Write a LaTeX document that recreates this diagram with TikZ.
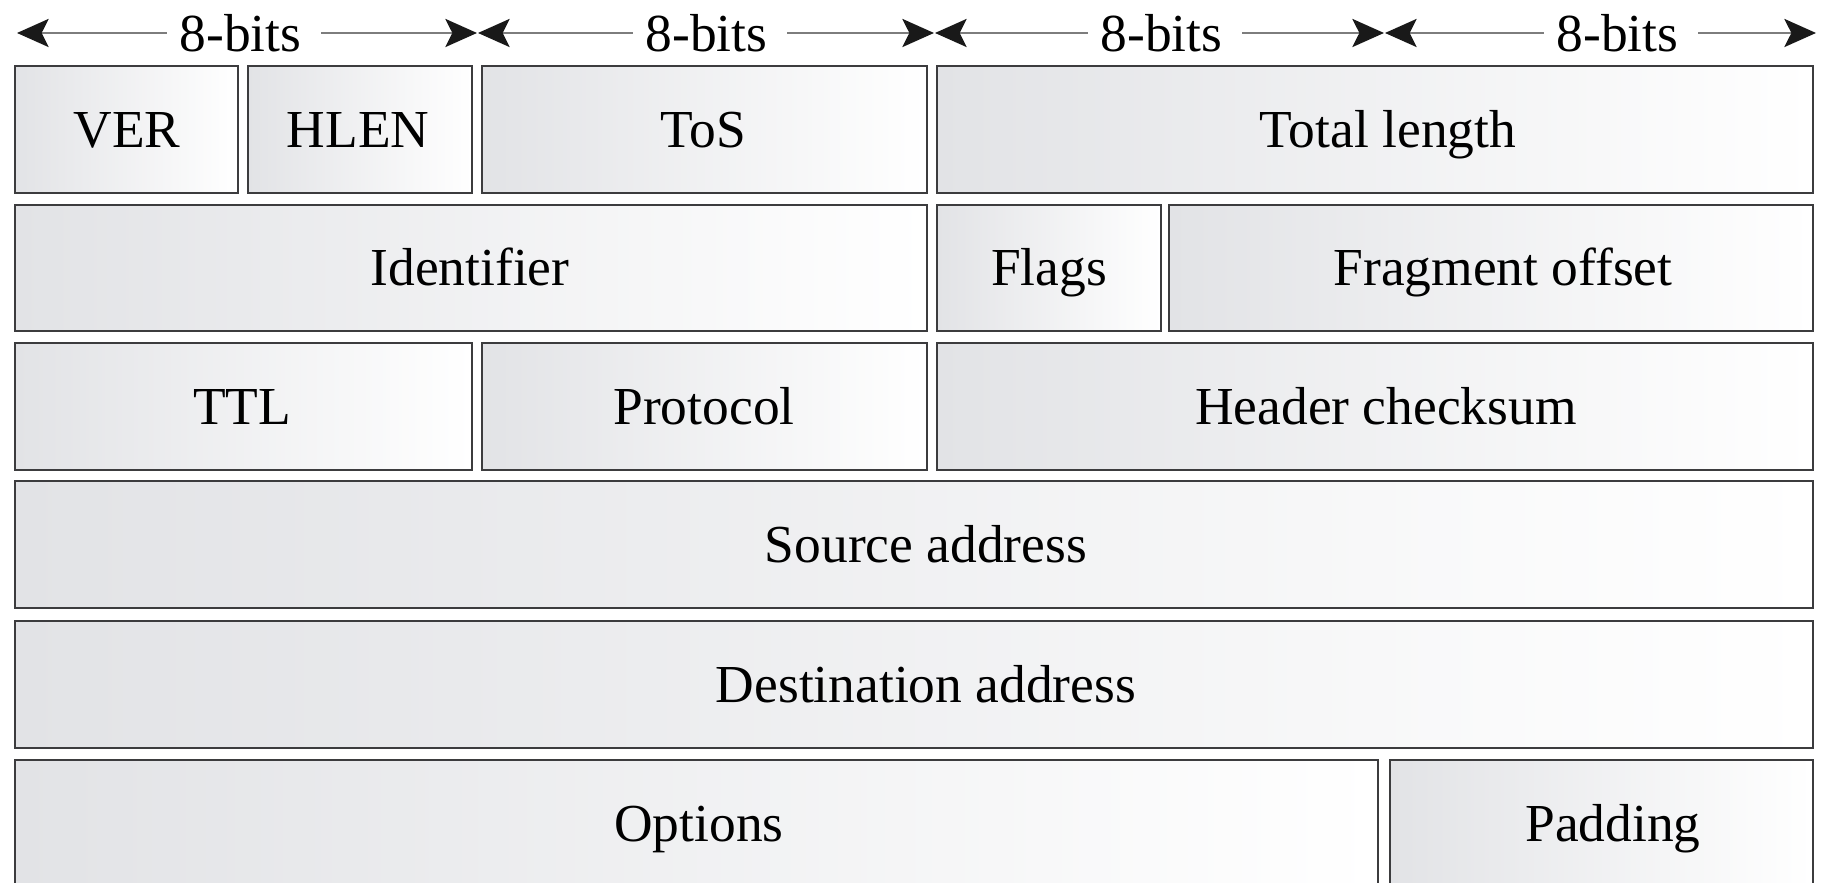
\documentclass[tikz,border=0pt]{standalone}
\usepackage{fontspec}
\setmainfont{Liberation Serif}
\usetikzlibrary{arrows.meta}
\definecolor{boxgray}{RGB}{226,227,230}
\definecolor{edge}{RGB}{60,60,62}
\definecolor{dimline}{RGB}{125,125,125}
\definecolor{tipcol}{RGB}{25,25,25}
\newcommand\fld[7]{%
  \path[fld] (#2,#3) rectangle (#4,#5);
  \node[lbl] (#1) at (#6,{(#3+#5)/2+18}) {#7};}
\begin{document}
\begin{tikzpicture}[x=0.01cm,y=-0.01cm,
  fld/.style={draw=edge, line width=0.8pt, left color=boxgray, right color=white},
  lbl/.style={anchor=base, inner sep=0pt, font=\fontsize{15.2}{18}\selectfont},
  dim/.style={draw=dimline, line width=0.65pt,
    {Stealth[length=9pt,width=8pt,inset=2pt,color=tipcol]}-{Stealth[length=9pt,width=8pt,inset=2pt,color=tipcol]}},
  bitlbl/.style={fill=white, anchor=west, inner xsep=0pt, inner ysep=1pt, font=\fontsize{15.2}{18}\selectfont}]
\useasboundingbox (0,0) rectangle (1845,883);
\clip (0,0) rectangle (1845,883);
\fill[white] (0,0) rectangle (1845,883);
% dimension arrows
\coordinate (d0) at (17,33);
\coordinate (d1) at (477,33);
\coordinate (d1b) at (478,33);
\coordinate (d2) at (934,33);
\coordinate (d2b) at (935,33);
\coordinate (d3) at (1384,33);
\coordinate (d3b) at (1385,33);
\coordinate (d4) at (1816,33);
\draw[dim] (d0) -- (d1);
\draw[dim] (d1b) -- (d2);
\draw[dim] (d2b) -- (d3);
\draw[dim] (d3b) -- (d4);
\node[bitlbl] (b1) at (166,33) {\kern3.7pt 8-bits\kern5.5pt};
\node[bitlbl] (b2) at (632,33) {\kern3.7pt 8-bits\kern5.5pt};
\node[bitlbl] (b3) at (1087,33) {\kern3.7pt 8-bits\kern5.5pt};
\node[bitlbl] (b4) at (1543,33) {\kern3.7pt 8-bits\kern5.5pt};
% row 1
\fld{ver}{15}{66}{238}{193}{127}{VER}
\fld{hlen}{248}{66}{472}{193}{358}{HLEN}
\fld{tos}{482}{66}{927}{193}{703}{ToS}
\fld{tlen}{937}{66}{1813}{193}{1388}{Total length}
% row 2
\fld{ident}{15}{205}{927}{331}{470}{Identifier}
\fld{flags}{937}{205}{1161}{331}{1049}{Flags}
\fld{frag}{1169}{205}{1813}{331}{1503}{Fragment offset}
% row 3
\fld{ttl}{15}{343}{472}{470}{242}{TTL}
\fld{proto}{482}{343}{927}{470}{704}{Protocol}
\fld{csum}{937}{343}{1813}{470}{1386}{Header checksum}
% row 4
\fld{src}{15}{481}{1813}{608}{926}{Source address}
% row 5
\fld{dst}{15}{621}{1813}{748}{926}{Destination address}
% row 6
\fld{opt}{15}{760}{1378}{887}{699}{Options}
\fld{pad}{1390}{760}{1813}{887}{1613}{Padding}
\end{tikzpicture}
\end{document}
